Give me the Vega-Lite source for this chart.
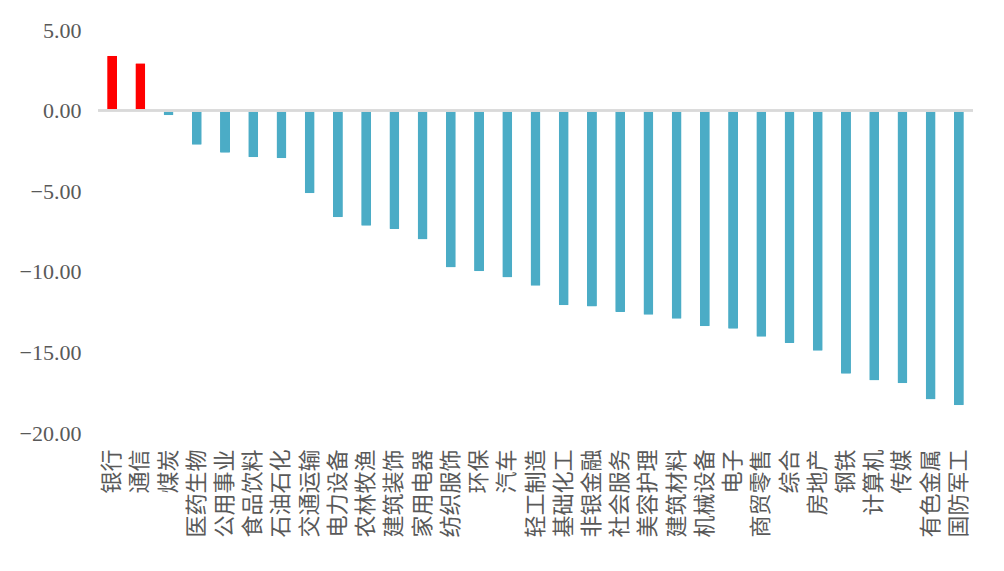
{
  "$schema": "https://vega.github.io/schema/vega-lite/v6.json",
  "autosize": "none",
  "padding": {"left": 98, "top": 30, "right": 31, "bottom": 138},
  "width": 875,
  "height": 403,
  "background": "white",
  "config": {
    "view": {"stroke": null},
    "font": "Liberation Serif"
  },
  "data": {
    "values": [
      {"industry": "银行", "value": 3.40},
      {"industry": "通信", "value": 2.94},
      {"industry": "煤炭", "value": -0.29},
      {"industry": "医药生物", "value": -2.12},
      {"industry": "公用事业", "value": -2.61},
      {"industry": "食品饮料", "value": -2.89},
      {"industry": "石油石化", "value": -2.95},
      {"industry": "交通运输", "value": -5.13},
      {"industry": "电力设备", "value": -6.62},
      {"industry": "农林牧渔", "value": -7.14},
      {"industry": "建筑装饰", "value": -7.34},
      {"industry": "家用电器", "value": -7.99},
      {"industry": "纺织服饰", "value": -9.73},
      {"industry": "环保", "value": -9.96},
      {"industry": "汽车", "value": -10.35},
      {"industry": "轻工制造", "value": -10.87},
      {"industry": "基础化工", "value": -12.07},
      {"industry": "非银金融", "value": -12.16},
      {"industry": "社会服务", "value": -12.49},
      {"industry": "美容护理", "value": -12.66},
      {"industry": "建筑材料", "value": -12.92},
      {"industry": "机械设备", "value": -13.38},
      {"industry": "电子", "value": -13.53},
      {"industry": "商贸零售", "value": -14.03},
      {"industry": "综合", "value": -14.42},
      {"industry": "房地产", "value": -14.90},
      {"industry": "钢铁", "value": -16.33},
      {"industry": "计算机", "value": -16.74},
      {"industry": "传媒", "value": -16.91},
      {"industry": "有色金属", "value": -17.92},
      {"industry": "国防军工", "value": -18.28}
    ]
  },
  "layer": [
    {
      "mark": {"type": "bar", "size": 10, "cornerRadius": 1},
      "encoding": {
        "x": {
          "field": "industry",
          "type": "nominal",
          "sort": null,
          "title": null,
          "axis": {
            "orient": "bottom",
            "domain": false,
            "ticks": false,
            "labelAngle": -90,
            "labelAlign": "right",
            "labelBaseline": "middle",
            "labelPadding": 16,
            "labelFont": "Liberation Serif, Noto Sans CJK SC",
            "labelFontSize": 22,
            "labelColor": "#595959",
            "labelLimit": 200
          }
        },
        "y": {
          "field": "value",
          "type": "quantitative",
          "title": null,
          "scale": {"domain": [-20, 5], "nice": false, "zero": false},
          "axis": {
            "values": [-20, -15, -10, -5, 0, 5],
            "format": ".2f",
            "grid": false,
            "domain": false,
            "ticks": false,
            "labelPadding": 17,
            "labelFont": "Liberation Serif",
            "labelFontSize": 22,
            "labelColor": "#595959"
          }
        },
        "color": {
          "condition": {"test": "datum.value > 0", "value": "#FF0000"},
          "value": "#4BACC6"
        }
      }
    },
    {
      "mark": {"type": "rule", "color": "#D9D9D9", "strokeWidth": 1.5},
      "encoding": {"y": {"datum": 0}}
    }
  ]
}
